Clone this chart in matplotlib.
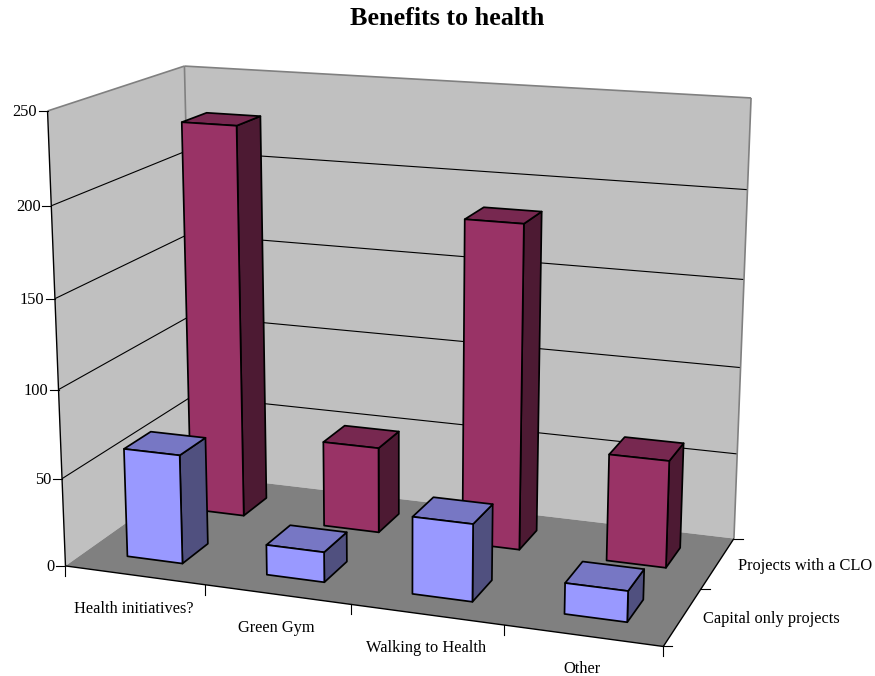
#!/usr/bin/env python3
"""Benefits to health - Excel style 3D column chart drawn through a fitted perspective."""

import matplotlib
matplotlib.use('Agg')
import matplotlib.pyplot as plt
from matplotlib.patches import Polygon
import numpy as np

# data
categories = ['Health initiatives?', 'Green Gym', 'Walking to Health', 'Other']
series_names = ['Capital only projects', 'Projects with a CLO']
capital_only = [62, 17, 43, 17]
with_clo = [228, 50, 185, 61]
y_ticks = [0, 50, 100, 150, 200, 250]

# colours
WALL = '#C0C0C0'
FLOOR = '#808080'
EDGE_GREY = '#808080'
BLUE = ('#9999FF', '#7777C4', '#50507F')
MAROON = ('#993366', '#772850', '#4D1A33')

# box corners on the canvas, used to fit the camera: (cat, depth, value) -> pixel
CALIB = [
    ((0, 0, 0), (65.7, 565.7)),
    ((4, 0, 0), (663.3, 646.7)),
    ((4, 2, 0), (734.0, 538.3)),
    ((0, 2, 0), (194.0, 475.0)),
    ((0, 0, 250), (47.3, 111.0)),
    ((0, 2, 250), (184.7, 66.0)),
    ((4, 2, 250), (751.0, 98.0)),
]


def fit_camera(calib):
    rows = []
    for (x, z, v), (px, py) in calib:
        p = [x, z, v / 100.0, 1.0]
        rows.append(p + [0, 0, 0, 0] + [-px * c for c in p])
        rows.append([0, 0, 0, 0] + p + [-py * c for c in p])
    _, _, vt = np.linalg.svd(np.array(rows))
    return vt[-1].reshape(3, 4)


CAM = fit_camera(CALIB)


def proj(x, z, v):
    q = CAM @ np.array([x, z, v / 100.0, 1.0])
    return q[0] / q[2], q[1] / q[2]


def line3d(ax, a, b, color='black', lw=0.8, zorder=3):
    pa, pb = proj(*a), proj(*b)
    ax.plot([pa[0], pb[0]], [pa[1], pb[1]], color=color, lw=lw, zorder=zorder,
            solid_capstyle='butt')


def face(ax, pts, color, zorder, edge='black', lw=1.25):
    ax.add_patch(Polygon([proj(*p) for p in pts], closed=True, facecolor=color,
                         edgecolor=edge, linewidth=lw, joinstyle='round', zorder=zorder))


def draw_bar(ax, cat, depth, value, colors, zorder, width=0.4):
    x0, x1 = cat + 0.5 - width / 2, cat + 0.5 + width / 2
    z0, z1 = depth + 0.5 - width / 2, depth + 0.5 + width / 2
    front, top, side = colors
    face(ax, [(x1, z0, 0), (x1, z1, 0), (x1, z1, value), (x1, z0, value)], side, zorder)
    face(ax, [(x0, z0, value), (x1, z0, value), (x1, z1, value), (x0, z1, value)], top, zorder)
    face(ax, [(x0, z0, 0), (x1, z0, 0), (x1, z0, value), (x0, z0, value)], front, zorder)


fig = plt.figure(figsize=(8.75, 6.76), dpi=100, facecolor='white')
ax = fig.add_axes([0, 0, 1, 1])
ax.set_xlim(0, 875)
ax.set_ylim(676, 0)
ax.axis('off')
plt.rcParams['font.family'] = ['Liberation Serif', 'DejaVu Serif']

n_cat = len(categories)
n_ser = len(series_names)
top_v = y_ticks[-1]

# walls and floor
face(ax, [(0, 0, 0), (0, n_ser, 0), (0, n_ser, top_v), (0, 0, top_v)], WALL, 1, edge='none')
face(ax, [(0, n_ser, 0), (n_cat, n_ser, 0), (n_cat, n_ser, top_v), (0, n_ser, top_v)], WALL, 1, edge='none')
face(ax, [(0, 0, 0), (n_cat, 0, 0), (n_cat, n_ser, 0), (0, n_ser, 0)], FLOOR, 2, edge='none')

# gridlines
for v in y_ticks[1:-1]:
    line3d(ax, (0, 0, v), (0, n_ser, v))
    line3d(ax, (0, n_ser, v), (n_cat, n_ser, v))

# grey wall edges
line3d(ax, (0, 0, top_v), (0, n_ser, top_v), EDGE_GREY, 1.2)
line3d(ax, (0, n_ser, top_v), (n_cat, n_ser, top_v), EDGE_GREY, 1.2)
line3d(ax, (0, n_ser, 0), (0, n_ser, top_v), EDGE_GREY, 1.2)
line3d(ax, (n_cat, n_ser, 0), (n_cat, n_ser, top_v), EDGE_GREY, 1.2)

# axis lines
line3d(ax, (0, 0, 0), (0, 0, top_v), lw=1.0, zorder=4)
line3d(ax, (0, 0, 0), (n_cat, 0, 0), lw=1.0, zorder=4)
line3d(ax, (n_cat, 0, 0), (n_cat, n_ser, 0), lw=1.0, zorder=4)

# value axis ticks and labels
for v in y_ticks:
    px, py = proj(0, 0, v)
    ax.plot([px - 9, px], [py, py], color='black', lw=0.8, zorder=4)
    ax.text(px - 10.5, py + 1, str(v), ha='right', va='center', fontsize=11.8, color='black')

# category ticks and labels
for i in range(n_cat + 1):
    px, py = proj(i, 0, 0)
    ax.plot([px, px], [py, py + 10], color='black', lw=0.8, zorder=4)
for i, name in enumerate(categories):
    px, py = proj(i + 0.5, 0, 0)
    ax.text(px - 1, py + 33.5, name, ha='center', va='center', fontsize=11.8, color='black')

# depth ticks and labels
for d in range(n_ser + 1):
    px, py = proj(n_cat, d, 0)
    ax.plot([px, px + 9], [py, py], color='black', lw=0.8, zorder=4)
for d, name in enumerate(series_names):
    px, py = proj(n_cat, d + 0.5, 0)
    ax.text(px + 20, py + 2.5, name, ha='left', va='center', fontsize=11.8, color='black')

# bars, back row first
for i, v in enumerate(with_clo):
    draw_bar(ax, i, 1, v, MAROON, 5 + i)
for i, v in enumerate(capital_only):
    draw_bar(ax, i, 0, v, BLUE, 10 + i)

ax.text(447, 18.5, 'Benefits to health', ha='center', va='center',
        fontsize=18.8, fontweight='bold', color='black')

fig.savefig('out.png', dpi=100, facecolor='white')
